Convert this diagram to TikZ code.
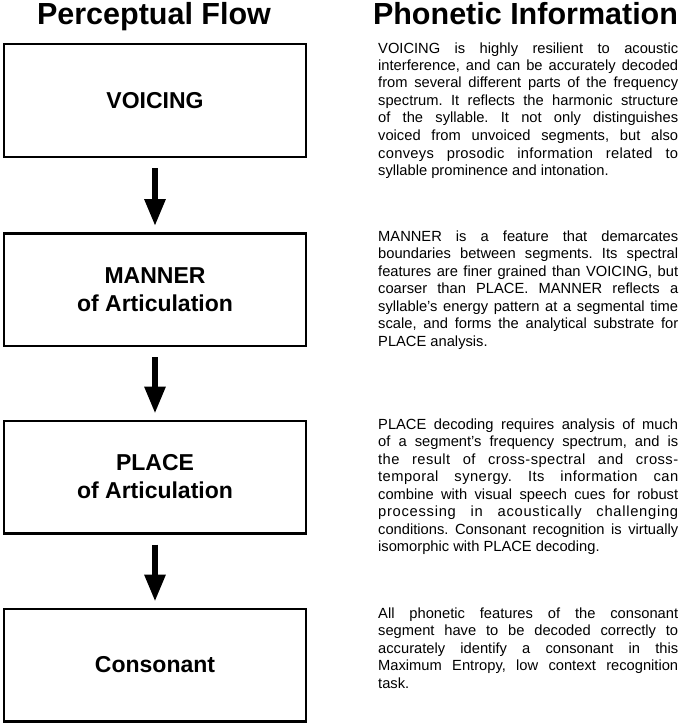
\documentclass[tikz,border=0pt]{standalone}
\usepackage{fontspec}
\setmainfont{Liberation Sans}
\usetikzlibrary{arrows.meta}
\newcommand{\jl}[1]{\makebox[300pt][s]{#1}}
\newcommand{\jls}[2]{\makebox[300pt][s]{\addfontfeature{LetterSpace=#1}#2}}
\frenchspacing
\begin{document}
\begin{tikzpicture}[x=1pt,y=1pt,
  box/.style={draw, line width=2.5pt, minimum width=302pt, minimum height=112.5pt, inner sep=0pt, align=center, font=\bfseries\fontsize{23}{28}\selectfont},
  flow/.style={line width=6pt, -{Triangle[length=27pt,width=20pt]}, shorten <=10pt, shorten >=6pt},
  title/.style={font=\bfseries\fontsize{30.5}{36}\selectfont, anchor=base, inner sep=0pt},
  para/.style={anchor=base west, inner sep=0pt, font=\fontsize{14.7}{17.5}\selectfont}]
\useasboundingbox (0,0) rectangle (685,-725);

\node[title] (t1) at (154,-25) {Perceptual Flow};
\node[title] (t2) at (525.5,-25) {Phonetic Information};

\node[box] (b1) at (155,-100.5) {VOICING};
\node[box] (b2) at (155,-289.5) {MANNER\\of Articulation};
\node[box] (b3) at (155,-477) {PLACE\\of Articulation};
\node[box] (b4) at (155,-665) {Consonant};

\draw[flow] (b1.south) -- (b2.north);
\draw[flow] (b2.south) -- (b3.north);
\draw[flow] (b3.south) -- (b4.north);

\node[para] (p1) at (378,-53) {\parbox[t]{300pt}{\fontsize{14.7}{17.5}\selectfont\frenchspacing
\jl{VOICING is highly resilient to acoustic}\\
\jl{interference, and can be accurately decoded}\\
\jl{from several different parts of the frequency}\\
\jl{spectrum. It reflects the harmonic structure}\\
\jl{of the syllable. It not only distinguishes}\\
\jl{voiced from unvoiced segments, but also}\\
\jls{2}{conveys prosodic information related to}\\
syllable prominence and intonation.}};

\node[para] (p2) at (378,-241) {\parbox[t]{300pt}{\fontsize{14.7}{17.5}\selectfont\frenchspacing
\jl{MANNER is a feature that demarcates}\\
\jl{boundaries between segments. Its spectral}\\
\jl{features are finer grained than VOICING, but}\\
\jl{coarser than PLACE. MANNER reflects a}\\
\jl{syllable’s energy pattern at a segmental time}\\
\jl{scale, and forms the analytical substrate for}\\
PLACE analysis.}};

\node[para] (p3) at (378,-429) {\parbox[t]{300pt}{\fontsize{14.7}{17.5}\selectfont\frenchspacing
\jl{PLACE decoding requires analysis of much}\\
\jl{of a segment’s frequency spectrum, and is}\\
\jls{3}{the result of cross-spectral and cross-}\\
\jls{3}{temporal synergy. Its information can}\\
\jl{combine with visual speech cues for robust}\\
\jls{5}{processing in acoustically challenging}\\
\jl{conditions. Consonant recognition is virtually}\\
isomorphic with PLACE decoding.}};

\node[para] (p4) at (378,-618) {\parbox[t]{300pt}{\fontsize{14.7}{17.5}\selectfont\frenchspacing
\jl{All phonetic features of the consonant}\\
\jl{segment have to be decoded correctly to}\\
\jl{accurately identify a consonant in this}\\
\jl{Maximum Entropy, low context recognition}\\
task.}};
\end{tikzpicture}
\end{document}
